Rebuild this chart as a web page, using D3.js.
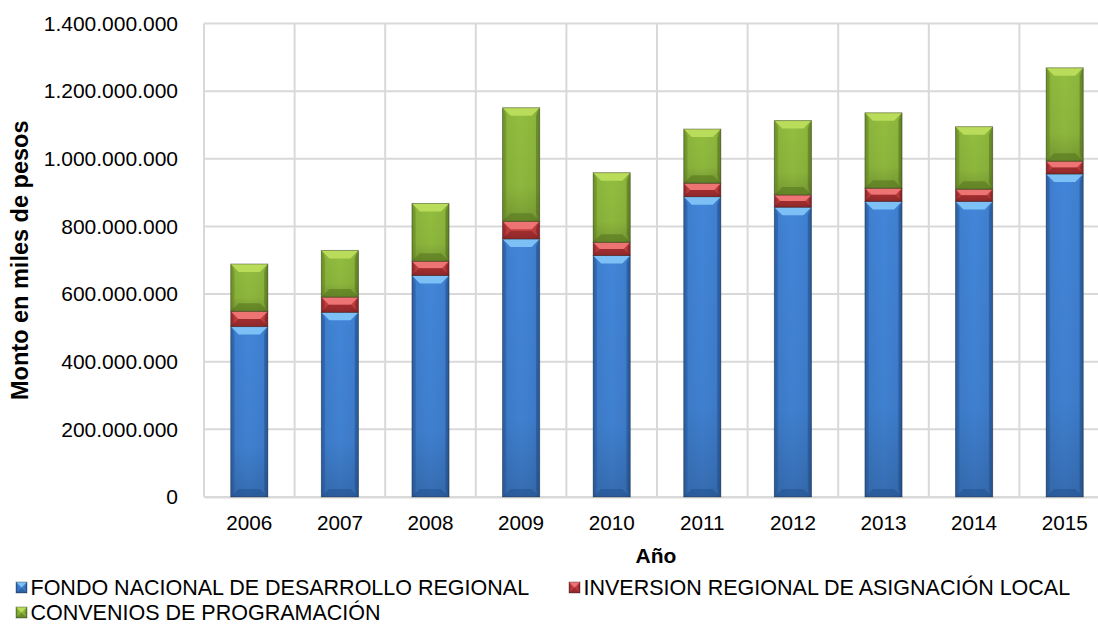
<!DOCTYPE html>
<html><head><meta charset="utf-8">
<script src="https://cdn.jsdelivr.net/npm/d3@7"></script>
<style>body{margin:0;background:#fff;} svg{display:block;font-family:"Liberation Sans",Arial,sans-serif;}</style>
</head><body>
<svg id="c" width="1098" height="625"></svg>
<script>
const years = ["2006","2007","2008","2009","2010","2011","2012","2013","2014","2015"];
const fndr = [504000000,546000000,655000000,763000000,714000000,888000000,857000000,874000000,874000000,955000000];
const iral = [45000000,45000000,42000000,52000000,39000000,40000000,36000000,39000000,36000000,38000000];
const convenios = [140000000,138000000,171000000,336000000,206000000,160000000,220000000,223000000,185000000,276000000];
const seriesNames = ["FONDO NACIONAL DE DESARROLLO REGIONAL","INVERSION REGIONAL DE ASIGNACIÓN LOCAL","CONVENIOS DE PROGRAMACIÓN"];
const yTicks = [0,200000000,400000000,600000000,800000000,1000000000,1200000000,1400000000];

(function(){
const palette = [
  {base:"#3f7fcf", light:"#7cc0f6", dark:"#23528f", edge:"#2b5fa3"},
  {base:"#c23d3f", light:"#ee7474", dark:"#7e1f21", edge:"#962a2c"},
  {base:"#8cb63c", light:"#b9dc5a", dark:"#56731d", edge:"#6d8f28"}
];

const svg = d3.select("#c");
const pL = 204, pR = 1110, pT = 23.5, pB = 497;
const x = d3.scaleBand().domain(years).range([pL,pR]).paddingInner(0.59).paddingOuter(0.295);
const xb = d3.scaleBand().domain(years).range([pL,pR]);
const y = d3.scaleLinear().domain([0,1400000000]).range([pB,pT]);

const fmt = v => d3.format(",")(v).replace(/,/g,".");

const defs = svg.append("defs");
palette.forEach((p,i)=>{
  const g = defs.append("linearGradient").attr("id","g"+i).attr("x1","0").attr("x2","1").attr("y1","0").attr("y2","0");
  g.append("stop").attr("offset","0").attr("stop-color",p.edge);
  g.append("stop").attr("offset","0.12").attr("stop-color",p.base);
  g.append("stop").attr("offset","0.5").attr("stop-color",d3.color(p.base).brighter(0.12));
  g.append("stop").attr("offset","0.88").attr("stop-color",p.base);
  g.append("stop").attr("offset","1").attr("stop-color",p.edge);
  const v = defs.append("linearGradient").attr("id","v"+i).attr("x1","0").attr("x2","0").attr("y1","0").attr("y2","1");
  v.append("stop").attr("offset","0").attr("stop-color","#000").attr("stop-opacity",0);
  v.append("stop").attr("offset","0.7").attr("stop-color","#000").attr("stop-opacity",0.04);
  v.append("stop").attr("offset","1").attr("stop-color","#000").attr("stop-opacity",0.18);
});

const grid = svg.append("g");
yTicks.forEach(t=>{
  grid.append("line").attr("x1",pL).attr("x2",pR).attr("y1",y(t)).attr("y2",y(t))
    .attr("stroke","#d9d9d9").attr("stroke-width",2);
});
years.forEach(yr=>{
  grid.append("line").attr("x1",xb(yr)+xb.bandwidth()).attr("x2",xb(yr)+xb.bandwidth()).attr("y1",pT).attr("y2",pB)
    .attr("stroke","#d9d9d9").attr("stroke-width",2);
});
grid.append("line").attr("x1",pL).attr("x2",pL).attr("y1",pT).attr("y2",pB).attr("stroke","#d9d9d9").attr("stroke-width",2);

const yAxis = svg.append("g").attr("transform",`translate(${pL},0)`)
  .call(d3.axisLeft(y).tickValues(yTicks).tickFormat(fmt).tickSize(0).tickPadding(26));
yAxis.select(".domain").remove();
yAxis.selectAll("text").attr("font-size",21).attr("fill","#000").attr("font-family","Liberation Sans, Arial, sans-serif");

const xAxis = svg.append("g").attr("transform",`translate(0,${pB})`)
  .call(d3.axisBottom(xb).tickSize(0).tickPadding(18));
xAxis.select(".domain").attr("stroke","#d9d9d9").attr("stroke-width",2);
xAxis.selectAll("text").attr("font-size",20.7).attr("fill","#000").attr("font-family","Liberation Sans, Arial, sans-serif");

function bevel(g, bx, by, w, h, i){
  const p = palette[i];
  const b = Math.min(8, h/2, w/2);
  g.append("rect").attr("x",bx).attr("y",by).attr("width",w).attr("height",h).attr("fill",`url(#g${i})`);
  g.append("rect").attr("x",bx).attr("y",by).attr("width",w).attr("height",h).attr("fill",`url(#v${i})`);
  g.append("polygon").attr("points",[[bx,by],[bx+w,by],[bx+w-b,by+b],[bx+b,by+b]].join(" ")).attr("fill",p.light);
  g.append("polygon").attr("points",[[bx,by],[bx+b*0.45,by+b],[bx+b*0.45,by+h-b],[bx,by+h]].join(" ")).attr("fill",p.edge).attr("opacity",0.55);
  g.append("polygon").attr("points",[[bx+w,by],[bx+w-b*0.45,by+b],[bx+w-b*0.45,by+h-b],[bx+w,by+h]].join(" ")).attr("fill",p.dark).attr("opacity",0.5);
  g.append("polygon").attr("points",[[bx,by+h],[bx+w,by+h],[bx+w-b,by+h-b],[bx+b,by+h-b]].join(" ")).attr("fill",p.dark).attr("opacity",0.55);
  g.append("rect").attr("x",bx).attr("y",by).attr("width",w).attr("height",h).attr("fill","none")
    .attr("stroke","#1a1a1a").attr("stroke-opacity",0.35).attr("stroke-width",1);
}

const series = [fndr, iral, convenios];
const bars = svg.append("g");
years.forEach((yr,j)=>{
  let acc = 0;
  series.forEach((s,i)=>{
    const y0 = y(acc), y1 = y(acc + s[j]);
    bevel(bars, x(yr), y1, x.bandwidth(), y0 - y1, i);
    acc += s[j];
  });
});

svg.append("text").attr("transform",`translate(28,${(pT+pB)/2}) rotate(-90)`).attr("text-anchor","middle")
  .attr("font-size",23.5).attr("font-weight","bold").text("Monto en miles de pesos");
svg.append("text").attr("x",656).attr("y",563).attr("text-anchor","middle")
  .attr("font-size",21).attr("font-weight","bold").text("Año");

const legPos = [[16,595],[569,595],[16,620]];
seriesNames.forEach((n,i)=>{
  const [lx,ly] = legPos[i];
  const lg = svg.append("g");
  bevel(lg, lx, ly-13, 11, 11, i);
  lg.append("text").attr("x",lx+14.5).attr("y",ly).attr("font-size",21.5).attr("fill","#000").text(n);
});
})();
</script>
</body></html>
